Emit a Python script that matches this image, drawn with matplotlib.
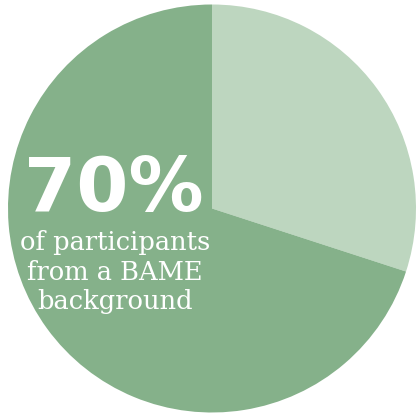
import matplotlib.pyplot as plt

shares = [30, 70]
colors = ['#BDD6BF', '#85B18A']
big_label = "70%"
sub_lines = ["of participants", "from a BAME", "background"]

fig = plt.figure(figsize=(4.17, 4.14), dpi=100)
ax = fig.add_axes([0, 0, 1, 1])

ax.pie(shares, colors=colors, startangle=-90, counterclock=True,
       center=(212, 209.5), radius=204, wedgeprops=dict(linewidth=0))
ax.set_xlim(0, 417)
ax.set_ylim(414, 0)
ax.set_aspect('auto')
ax.axis('off')

ax.text(114, 191, big_label, color='white', fontsize=54, fontweight='bold',
        family='DejaVu Sans', ha='center', va='center')
for i, line in enumerate(sub_lines):
    ax.text(115, 243 + i * 29.5, line, color='white', fontsize=18.5,
            family='DejaVu Serif', ha='center', va='center')

fig.savefig('out.png', dpi=100, facecolor='white')
